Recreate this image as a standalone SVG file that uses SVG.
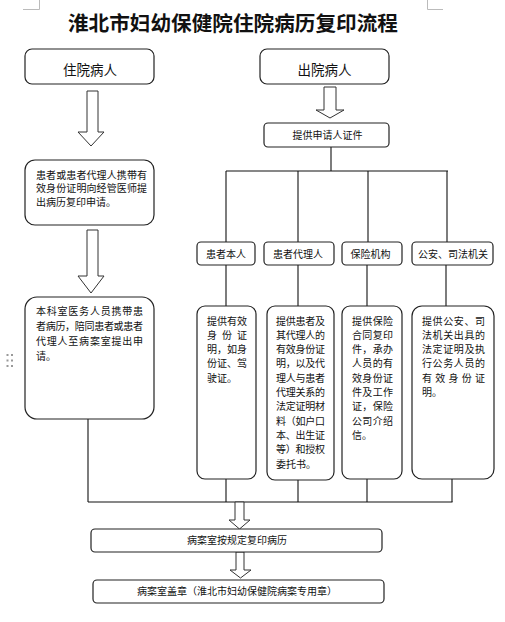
<svg xmlns="http://www.w3.org/2000/svg" width="505" height="622" viewBox="0 0 505 622">
<style>
text{font-family:"Noto Sans CJK SC","Liberation Sans",sans-serif;fill:#111}
.box{fill:#fff;stroke:#222;stroke-width:1.2}
.ln{stroke:#111;stroke-width:1.1;fill:none}
.arr{fill:#fff;stroke:#333;stroke-width:1}
.s{font-size:10px}
.h{font-size:13.5px;text-anchor:middle}
.c{font-size:10px;text-anchor:middle}
.mark{stroke:#bbb;stroke-width:1}
</style>
<rect width="505" height="622" fill="#fff"/>
<g id="page-marks">
<line class="mark" x1="39.5" y1="0" x2="39.5" y2="9.5"/>
<line class="mark" x1="23" y1="9.5" x2="39.5" y2="9.5"/>
<line class="mark" x1="427.5" y1="0" x2="427.5" y2="9.5"/>
<line class="mark" x1="427.5" y1="9.5" x2="443" y2="9.5"/>
<g fill="#999">
<rect x="6.5" y="354" width="2" height="2"/><rect x="11" y="354" width="2" height="2"/>
<rect x="6.5" y="359.5" width="2" height="2"/><rect x="11" y="359.5" width="2" height="2"/>
<rect x="6.5" y="365" width="2" height="2"/><rect x="11" y="365" width="2" height="2"/>
</g>
</g>
<text id="title" x="233" y="31" font-size="20.5" font-weight="bold" text-anchor="middle" textLength="330" lengthAdjust="spacingAndGlyphs">淮北市妇幼保健院住院病历复印流程</text>

<g id="connectors">
<polyline class="ln" points="331,147 331,171"/>
<line class="ln" x1="226" y1="171" x2="448" y2="171"/>
<line class="ln" x1="226" y1="171" x2="226" y2="242"/>
<line class="ln" x1="298" y1="171" x2="298" y2="242"/>
<line class="ln" x1="368" y1="171" x2="368" y2="242"/>
<line class="ln" x1="447" y1="171" x2="447" y2="242"/>
<line class="ln" x1="226" y1="265" x2="226" y2="306"/>
<line class="ln" x1="298" y1="265" x2="298" y2="306"/>
<line class="ln" x1="367" y1="265" x2="367" y2="306"/>
<line class="ln" x1="446" y1="265" x2="446" y2="306"/>
<line class="ln" x1="226" y1="479" x2="226" y2="502"/>
<line class="ln" x1="298" y1="480" x2="298" y2="502"/>
<line class="ln" x1="367" y1="479" x2="367" y2="502"/>
<line class="ln" x1="452" y1="479" x2="452" y2="502"/>
<line class="ln" x1="88" y1="419" x2="88" y2="502"/>
<line class="ln" x1="88" y1="502" x2="452.5" y2="502"/>
<polygon class="arr" points="87,91 98,91 98,132 104,132 91,146 78,132 87,132"/>
<polygon class="arr" points="87,230 98,230 98,276 104,276 91,293 78,276 87,276"/>
<polygon class="arr" points="324,87 336,87 336,110 344,110 330,118 316,110 324,110"/>
<polygon class="arr" points="235,502 244,502 244,520 250,520 239.5,529 229,520 235,520"/>
<polygon class="arr" points="236,552 244,552 244,570 251,570 240.5,578 230,570 236,570"/>
</g>

<g id="inpatient">
<rect class="box" x="25" y="49" width="129" height="35" rx="7"/>
<text class="h" x="90" y="74.5">住院病人</text>
</g>
<g id="outpatient">
<rect class="box" x="260" y="49" width="129" height="35" rx="7"/>
<text class="h" x="324.5" y="74.5">出院病人</text>
</g>
<g id="provide-id">
<rect class="box" x="264" y="123" width="125" height="24" rx="4"/>
<text class="c" x="327.5" y="139">提供申请人证件</text>
</g>
<g id="apply-doctor">
<rect class="box" x="25" y="160" width="129" height="65" rx="10"/>
<text class="s" x="36" y="178.5" textLength="111" lengthAdjust="spacing">患者或患者代理人携带有</text>
<text class="s" x="36" y="192" textLength="111" lengthAdjust="spacing">效身份证明向经管医师提</text>
<text class="s" x="36" y="205.5">出病历复印申请。</text>
</g>
<g id="dept-staff">
<rect class="box" x="25" y="297" width="129" height="122" rx="12"/>
<text class="s" x="36" y="314.5" textLength="107" lengthAdjust="spacing">本科室医务人员携带患</text>
<text class="s" x="36" y="329.5" textLength="107" lengthAdjust="spacing">者病历，陪同患者或患者</text>
<text class="s" x="36" y="344.5" textLength="107" lengthAdjust="spacing">代理人至病案室提出申</text>
<text class="s" x="36" y="359.5">请。</text>
</g>

<g id="cat-self">
<rect class="box" x="197" y="242" width="58" height="23" rx="4"/>
<text class="c" x="226" y="258">患者本人</text>
</g>
<g id="cat-agent">
<rect class="box" x="264" y="242" width="70" height="23" rx="4"/>
<text class="c" x="298" y="258">患者代理人</text>
</g>
<g id="cat-insurance">
<rect class="box" x="342" y="242" width="60" height="23" rx="4"/>
<text class="c" x="370.5" y="258">保险机构</text>
</g>
<g id="cat-police">
<rect class="box" x="412" y="242" width="81" height="23" rx="4"/>
<text class="c" x="453" y="258">公安、司法机关</text>
</g>

<g id="doc-self">
<rect class="box" x="197" y="306" width="59" height="173" rx="8"/>
<text class="s" x="207" y="324.5" textLength="40" lengthAdjust="spacing">提供有效</text>
<text class="s" x="207" y="338.8" textLength="40" lengthAdjust="spacing">身份证</text>
<text class="s" x="207" y="353.1" textLength="40" lengthAdjust="spacing">明，如身</text>
<text class="s" x="207" y="367.4" textLength="40" lengthAdjust="spacing">份证、驾</text>
<text class="s" x="207" y="381.7">驶证。</text>
</g>
<g id="doc-agent">
<rect class="box" x="267" y="306" width="67" height="174" rx="8"/>
<text class="s" x="276" y="324.5" textLength="49" lengthAdjust="spacing">提供患者及</text>
<text class="s" x="276" y="338.8" textLength="49" lengthAdjust="spacing">其代理人的</text>
<text class="s" x="276" y="353.1" textLength="49" lengthAdjust="spacing">有效身份证</text>
<text class="s" x="276" y="367.4" textLength="49" lengthAdjust="spacing">明，以及代</text>
<text class="s" x="276" y="381.7" textLength="49" lengthAdjust="spacing">理人与患者</text>
<text class="s" x="276" y="396" textLength="49" lengthAdjust="spacing">代理关系的</text>
<text class="s" x="276" y="410.3" textLength="49" lengthAdjust="spacing">法定证明材</text>
<text class="s" x="276" y="424.6" textLength="49" lengthAdjust="spacing">料（如户口</text>
<text class="s" x="276" y="438.9" textLength="49" lengthAdjust="spacing">本、出生证</text>
<text class="s" x="276" y="453.2" textLength="49" lengthAdjust="spacing">等）和授权</text>
<text class="s" x="276" y="467.5">委托书。</text>
</g>
<g id="doc-insurance">
<rect class="box" x="342" y="306" width="60" height="173" rx="8"/>
<text class="s" x="352" y="324.5" textLength="41" lengthAdjust="spacing">提供保险</text>
<text class="s" x="352" y="338.8" textLength="41" lengthAdjust="spacing">合同复印</text>
<text class="s" x="352" y="353.1" textLength="41" lengthAdjust="spacing">件，承办</text>
<text class="s" x="352" y="367.4" textLength="41" lengthAdjust="spacing">人员的有</text>
<text class="s" x="352" y="381.7" textLength="41" lengthAdjust="spacing">效身份证</text>
<text class="s" x="352" y="396" textLength="41" lengthAdjust="spacing">件及工作</text>
<text class="s" x="352" y="410.3" textLength="41" lengthAdjust="spacing">证，保险</text>
<text class="s" x="352" y="424.6" textLength="41" lengthAdjust="spacing">公司介绍</text>
<text class="s" x="352" y="438.9">信。</text>
</g>
<g id="doc-police">
<rect class="box" x="412" y="306" width="82" height="173" rx="10"/>
<text class="s" x="422" y="324.5" textLength="63" lengthAdjust="spacing">提供公安、司</text>
<text class="s" x="422" y="338.8" textLength="63" lengthAdjust="spacing">法机关出具的</text>
<text class="s" x="422" y="353.1" textLength="63" lengthAdjust="spacing">法定证明及执</text>
<text class="s" x="422" y="367.4" textLength="63" lengthAdjust="spacing">行公务人员的</text>
<text class="s" x="422" y="381.7" textLength="63" lengthAdjust="spacing">有效身份证</text>
<text class="s" x="422" y="396">明。</text>
</g>

<g id="copy-records">
<rect class="box" x="91" y="529" width="291" height="23" rx="4"/>
<text class="c" x="237" y="544">病案室按规定复印病历</text>
</g>
<g id="stamp">
<rect class="box" x="93" y="580" width="291" height="23" rx="4"/>
<text class="c" x="237" y="595">病案室盖章（淮北市妇幼保健院病案专用章）</text>
</g>
</svg>
